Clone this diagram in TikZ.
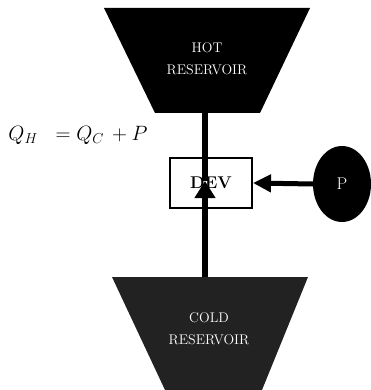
\documentclass[tikz,border=0pt]{standalone}
\usetikzlibrary{shapes.geometric,arrows.meta}
\definecolor{coldgray}{HTML}{222222}
\begin{document}
\begin{tikzpicture}[
        x=1pt, y=-1pt,
        reslabel/.style={align=center, text=white, inner sep=0pt, font=\fontsize{14}{22}\selectfont},
        device/.style={rectangle, draw, line width=2pt, fill=white, minimum width=82pt,
            minimum height=50pt, inner sep=0pt, font=\fontsize{17}{19}\selectfont\bfseries},
        source/.style={ellipse, fill=black, minimum width=58pt, minimum height=76pt,
            inner sep=0pt, text=white, font=\fontsize{17}{19}\selectfont},
        heatflow/.style={line width=6pt, -{Triangle[length=17pt, width=20pt]}},
        workflow/.style={line width=5pt, -{Triangle[length=18pt, width=17pt]}}
    ]
        \useasboundingbox (0,0) rectangle (371,390);

        % reservoirs
        \fill[black]    (104,8) -- (310,8) -- (260,113) -- (155,113) -- cycle;
        \fill[coldgray] (112,277) -- (308,277) -- (262,390) -- (165,390) -- cycle;
        \node[reslabel] (hot)  at (207,59)  {HOT\\RESERVOIR};
        \node[reslabel] (cold) at (209,329) {COLD\\RESERVOIR};

        \node[device] (dev) at (211,183) {DEV};
        \node[source] (P)   at (342,184) {P};

        \node[font=\fontsize{20}{22}\selectfont] (law) at (78,135) {$Q_H\ \ = Q_C\, + P$};

        \coordinate (coldtop) at (205,277);
        \coordinate (mid)     at (205,181);
        \coordinate (hottip)  at (205,83);

        \draw[heatflow] (coldtop) -- (mid);
        \draw[heatflow] (mid) -- (hottip);
        \draw[workflow] (P.west) -- (dev.east);

    \end{tikzpicture}
\end{document}
